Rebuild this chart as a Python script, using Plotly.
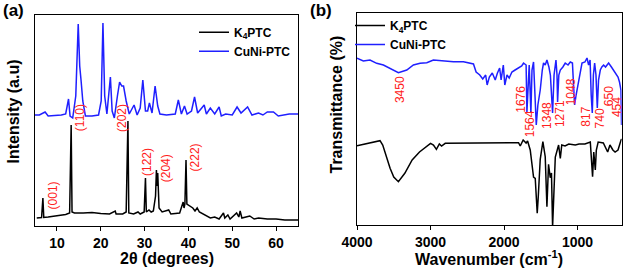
import plotly.graph_objects as go

# ---------------- XRD data (panel a) ----------------
xrd_k4_x = [5.4, 6.5, 6.8, 7.0, 8, 10, 12, 12.9, 13.25, 13.45, 14, 16, 18, 20, 22, 23.3, 23.5, 25, 25.8,
            26.2, 26.4, 27.5, 28.5, 29, 29.9, 30.2, 30.4, 31, 31.5, 32, 32.5, 32.7, 32.85, 33.0, 33.3,
            34, 35.5, 36, 38, 38.8, 39.0, 39.2, 39.45, 39.65, 40, 40.5, 41, 41.5, 42, 42.5, 44, 45, 46,
            47, 48, 48.3, 49, 49.5, 51, 51.5, 51.8, 52.2, 54, 55, 56, 58, 60, 62, 65]
xrd_k4_y = [8, 8.5, 28, 8.5, 9, 10, 11.5, 13, 101, 14, 13, 13, 13.5, 12.5, 12, 15, 12, 12, 14,
            105, 13, 12, 14, 12, 14, 48, 14, 16, 14, 15, 30, 56, 40, 53, 18,
            14, 16, 12, 13, 24, 18, 22, 66, 22, 21, 19, 18, 15, 18, 14, 10, 8, 9,
            7, 13, 8, 11, 7, 13, 9, 15, 8, 10, 7, 8, 7, 7, 6, 6]

xrd_cuni_x = [5.0, 6, 7.3, 8, 11, 12.0, 12.65, 13.0, 13.6, 14.3, 14.86, 15.2, 15.5, 15.9, 16.5, 18, 19.5,
              20.1, 20.5, 20.9, 21.4, 22.2, 22.6, 23.1, 23.8, 24.3, 24.8, 25.2, 25.8, 26.5, 27.6, 28.3,
              29.0, 29.6, 30.2, 30.7, 31.1, 31.7, 32.4, 33.0, 33.5, 35, 37, 37.7, 38.4, 39.1, 39.7, 40.7,
              41.4, 42.1, 43.6, 44.1, 45, 46, 47.0, 47.5, 48.5, 50, 51.1, 52, 53.5, 54.5, 56, 57, 58,
              59.4, 60.5, 63, 65]
xrd_cuni_y = [111, 111, 114, 110, 111, 112, 127, 110, 108, 130, 202, 160, 146, 125, 110, 110, 111,
              125, 203, 130, 112, 149, 115, 108, 130, 144, 140, 140, 125, 112, 121, 111,
              118, 146, 115, 115, 123, 113, 140, 120, 112, 111, 112, 126, 112, 120, 112, 115,
              129, 113, 121, 112, 118, 112, 119, 110, 112, 111, 119, 113, 119, 111, 113, 111, 114,
              114, 110, 112, 112]

xrd_labels = ["(001)", "(110)", "(202)", "(122)", "(204)", "(222)"]

# ---------------- FTIR data (panel b) ----------------
ftir_k4_x = [4000, 3850, 3687, 3650, 3600, 3550, 3500, 3437, 3350, 3250, 3150, 3000, 2960, 2920, 2880,
             2850, 2800, 2500, 2200, 1900, 1803, 1780, 1757, 1740, 1700, 1680, 1644, 1599, 1576,
             1562, 1549, 1535, 1508, 1472, 1440, 1417, 1395, 1372, 1355, 1340, 1321, 1303, 1258,
             1235, 1215, 1170, 1120, 1031, 980, 900, 827, 813, 796, 780, 759, 745, 720, 650, 591,
             560, 520, 490, 450, 409, 400]
ftir_k4_y = [79.3, 82, 84.3, 80, 68, 56.7, 48, 43.3, 51.7, 65, 73, 81.7, 80, 75.7, 81, 79, 81.7, 81.7,
             81.7, 82, 82.3, 79, 82, 85, 82, 84, 75, 48, 46.7, 21.7, 11.7, 28, 65.7, 83.3, 68.3, 18.3,
             60.7, 47.3, 52, -2, 33, 68, 80, 66.7, 80, 79, 81, 80, 81, 81, 83, 70, 48.3, 73, 55, 75,
             83, 82, 73, 80, 75, 73, 75, 85, 86]

ftir_cuni_x = [4000, 3914, 3823, 3732, 3641, 3551, 3437, 3323, 3233, 3142, 3051, 2961, 2825, 2689, 2552,
               2461, 2416, 2380, 2330, 2290, 2250, 2230, 2200, 2160, 2120, 2090, 2060, 2040, 2010, 1990,
               1960, 1930, 1893, 1850, 1800, 1760, 1735, 1700, 1689, 1672, 1658, 1635, 1620, 1599,
               1580, 1562, 1540, 1508, 1480, 1463, 1440, 1417, 1390, 1370, 1340, 1320, 1294, 1280,
               1272, 1255, 1235, 1200, 1168, 1130, 1099, 1070, 1055, 1040, 1020, 986, 960, 940, 900,
               872, 850, 830, 815, 800, 785, 768, 750, 732, 715, 691, 670, 646, 620, 578, 540, 510,
               480, 450, 430, 410, 402]
ftir_cuni_y = [166.7, 164, 165, 161.7, 160, 156.7, 152.3, 155, 160, 161.7, 162.3, 165, 164, 163.3, 163.3,
               161.7, 161, 153, 150, 146, 150, 140, 148, 152, 145, 152, 157, 145, 160, 140,
               150, 147, 153, 155, 157, 159, 162, 160, 113, 150, 160, 112, 155, 163,
               130, 100, 120, 135, 155, 162, 160, 165, 158, 150, 112, 150, 165, 150,
               123, 150, 155, 158, 162, 160, 163, 162, 140, 120, 130, 145, 155, 162, 163,
               167, 160, 165, 130, 112, 150, 162, 150, 117, 145, 155, 158, 160, 158, 162, 158, 155,
               152, 148, 143, 135, 100]

ftir_labels = ["3450", "1676", "1564", "1348", "1271", "1048", "817", "740", "650", "454"]

# ---------------- figure ----------------
FONT = "Liberation Sans"
BLUE = "#1f1fff"
RED = "#ff2020"

fig = go.Figure()
fig.add_trace(go.Scatter(x=xrd_k4_x, y=xrd_k4_y, mode="lines", name="K<sub>4</sub>PTC",
                         line=dict(color="black", width=1.5), xaxis="x", yaxis="y", legend="legend"))
fig.add_trace(go.Scatter(x=xrd_cuni_x, y=xrd_cuni_y, mode="lines", name="CuNi-PTC",
                         line=dict(color=BLUE, width=1.5), xaxis="x", yaxis="y", legend="legend"))
fig.add_trace(go.Scatter(x=ftir_k4_x, y=ftir_k4_y, mode="lines", name="K<sub>4</sub>PTC",
                         line=dict(color="black", width=1.5), xaxis="x2", yaxis="y2", legend="legend2"))
fig.add_trace(go.Scatter(x=ftir_cuni_x, y=ftir_cuni_y, mode="lines", name="CuNi-PTC",
                         line=dict(color=BLUE, width=1.5), xaxis="x2", yaxis="y2", legend="legend2"))

W, H = 625, 271
axis_common = dict(showline=True, linecolor="black", linewidth=1.3, mirror=True, showgrid=False,
                   zeroline=False, automargin=False)
tickfont = dict(family=FONT, size=14, color="black", weight="bold")

fig.update_layout(
    template="none",
    width=W, height=H, margin=dict(l=0, r=0, t=0, b=0, pad=0, autoexpand=False),
    paper_bgcolor="white", plot_bgcolor="white",
    font=dict(family=FONT, color="black"),
    xaxis=dict(domain=[35 / W, 298 / W], range=[5, 65], tickvals=[10, 20, 30, 40, 50, 60],
               ticks="outside", ticklen=4, tickwidth=1.3, tickcolor="black", tickfont=tickfont,
               anchor="y", **axis_common),
    yaxis=dict(domain=[(H - 226) / H, (H - 15) / H], range=[0, 211], showticklabels=False,
               ticks="", anchor="x", **axis_common),
    xaxis2=dict(domain=[357 / W, 621.7 / W], range=[4000, 400], tickvals=[1000, 2000, 3000, 4000],
                ticks="outside", ticklen=4, tickwidth=1.3, tickcolor="black", tickfont=tickfont,
                anchor="y2", **axis_common),
    yaxis2=dict(domain=[(H - 225) / H, (H - 12.7) / H], range=[0, 212.3], showticklabels=False,
                ticks="", anchor="x2", **axis_common),
    legend=dict(x=194 / W, y=(H - 17.7) / H, xanchor="left", yanchor="top", bgcolor="rgba(0,0,0,0)",
                borderwidth=0, font=dict(family=FONT, size=12, color="black", weight="bold"),
                tracegroupgap=0, itemwidth=30),
    legend2=dict(x=350 / W, y=(H - 11) / H, xanchor="left", yanchor="top", bgcolor="rgba(0,0,0,0)",
                 borderwidth=0, font=dict(family=FONT, size=12, color="black", weight="bold"),
                 tracegroupgap=0, itemwidth=30),
    showlegend=True,
)

ann = []
title_font = dict(family=FONT, size=16, color="black", weight="bold")
ann.append(dict(text="2θ (degrees)", x=(35 + 298) / 2 / W, y=(H - 258) / H, xref="paper", yref="paper",
                showarrow=False, font=title_font, xanchor="center", yanchor="middle"))
ann.append(dict(text="Intensity (a.u)", x=13.5 / W, y=(H - 112) / H, xref="paper", yref="paper",
                showarrow=False, font=title_font, textangle=-90, xanchor="center", yanchor="middle"))
ann.append(dict(text="Wavenumber (cm<sup>-1</sup>)", x=(357 + 621.7) / 2 / W, y=(H - 258) / H,
                xref="paper", yref="paper", showarrow=False, font=title_font,
                xanchor="center", yanchor="middle"))
ann.append(dict(text="Transmittance (%)", x=336.5 / W, y=(H - 105) / H, xref="paper", yref="paper",
                showarrow=False, font=title_font, textangle=-90, xanchor="center", yanchor="middle"))
ann.append(dict(text="(a)", x=13 / W, y=(H - 10) / H, xref="paper", yref="paper", showarrow=False,
                font=dict(family=FONT, size=17, color="black", weight="bold"),
                xanchor="center", yanchor="middle"))
ann.append(dict(text="(b)", x=321 / W, y=(H - 10) / H, xref="paper", yref="paper", showarrow=False,
                font=dict(family=FONT, size=17, color="black", weight="bold"),
                xanchor="center", yanchor="middle"))

xrd_lab_x = [9.2, 15.3, 24.85, 30.55, 34.95, 41.6]
xrd_lab_y = [31, 108, 108, 64, 58, 69]
for t, lx, ly in zip(xrd_labels, xrd_lab_x, xrd_lab_y):
    ann.append(dict(text=t, x=lx, y=ly, xref="x", yref="y", showarrow=False, textangle=-90,
                    font=dict(family=FONT, size=12, color=RED), xanchor="center", yanchor="middle"))

ftir_lab_x = [3414, 1773, 1644, 1417, 1238, 1085, 890, 690, 570, 463]
ftir_lab_y = [135, 126, 101, 110, 111, 133, 108, 107, 129, 118]
for t, lx, ly in zip(ftir_labels, ftir_lab_x, ftir_lab_y):
    ann.append(dict(text=t, x=lx, y=ly, xref="x2", yref="y2", showarrow=False, textangle=-90,
                    font=dict(family=FONT, size=12, color=RED), xanchor="center", yanchor="middle"))

fig.update_layout(annotations=ann)
fig.write_html("out.html", config={"displayModeBar": False},
               post_script="document.body.style.margin='0';document.body.style.padding='0';")
